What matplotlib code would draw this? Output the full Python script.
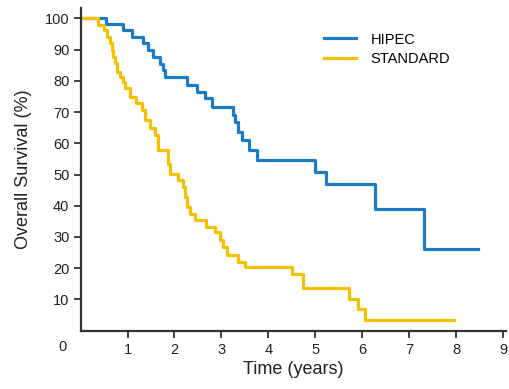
import matplotlib
matplotlib.use("Agg")
import matplotlib.pyplot as plt

# Kaplan-Meier style step data (time in years, survival %)
hipec_t = [0, 0.55, 0.91, 1.09, 1.33, 1.44, 1.55, 1.69, 1.76, 1.80, 2.26, 2.47,
           2.65, 2.79, 3.25, 3.29, 3.36, 3.43, 3.59, 3.75, 4.99, 5.22, 6.27, 7.31, 8.46]
hipec_s = [100, 98.2, 96.3, 94.1, 92.0, 90.0, 87.7, 85.5, 83.4, 81.3, 78.6, 76.5,
           74.4, 71.7, 69.2, 66.9, 63.7, 61.0, 58.0, 54.6, 50.7, 47.1, 38.9, 26.1, 26.1]

std_t = [0, 0.37, 0.50, 0.57, 0.62, 0.66, 0.69, 0.73, 0.77, 0.84, 0.91, 0.94,
         1.05, 1.19, 1.30, 1.37, 1.48, 1.58, 1.65, 1.87, 1.90, 2.08, 2.19, 2.22,
         2.26, 2.33, 2.43, 2.68, 2.86, 2.97, 3.04, 3.11, 3.36, 3.50, 4.51, 4.73,
         5.71, 5.91, 6.06, 7.95]
std_s = [100, 98.0, 96.2, 94.1, 92.0, 89.8, 87.7, 85.6, 82.9, 81.3, 79.7, 77.6,
         74.9, 72.8, 70.6, 67.4, 64.8, 62.6, 58.0, 53.5, 50.3, 48.2, 46.1, 42.9,
         39.7, 37.5, 35.4, 33.2, 31.6, 29.0, 26.8, 24.2, 22.0, 20.3, 18.0, 13.7,
         10.0, 6.8, 3.4, 3.4]

y_ticks = [10, 20, 30, 40, 50, 60, 70, 80, 90, 100]
x_ticks = [1, 2, 3, 4, 5, 6, 7, 8, 9]

blue = "#1a7cc6"
yellow = "#f3c100"
dark = "#333333"

plt.rcParams['font.family'] = ['Liberation Sans', 'DejaVu Sans']

fig = plt.figure(figsize=(5.10, 3.89), dpi=100)
ax = fig.add_axes([0.158, 0.150, 0.835, 0.829])

ax.step(hipec_t, hipec_s, where='post', color=blue, lw=2.3, label='HIPEC')
ax.step(std_t, std_s, where='post', color=yellow, lw=2.3, label='STANDARD')

ax.set_xlim(0, 9.07)
ax.set_ylim(0, 103.3)
ax.set_xticks(x_ticks)
ax.set_yticks(y_ticks)
ax.tick_params(axis='both', colors=dark, labelcolor='#222222', labelsize=10.5,
               width=1.3, length=5)
ax.tick_params(axis='x', pad=4)
ax.tick_params(axis='y', pad=3)

for side in ['top', 'right']:
    ax.spines[side].set_visible(False)
for side in ['left', 'bottom']:
    ax.spines[side].set_color(dark)
    ax.spines[side].set_linewidth(1.6)

# shared origin label
ax.annotate('0', xy=(0, 0), xycoords='axes fraction', xytext=(-13, -12),
            textcoords='offset points', ha='center', va='center',
            fontsize=10.5, color='#222222')

ax.set_xlabel('Time (years)', fontsize=13, color='#222222', labelpad=3)
ax.set_ylabel('Overall Survival (%)', fontsize=13, color='#222222', labelpad=9)

ax.legend(loc='upper left', bbox_to_anchor=(0.54, 0.965), frameon=False,
          fontsize=10.5, handlelength=2.2, handletextpad=1.0, labelspacing=0.4)

fig.savefig('out.png', dpi=100)
